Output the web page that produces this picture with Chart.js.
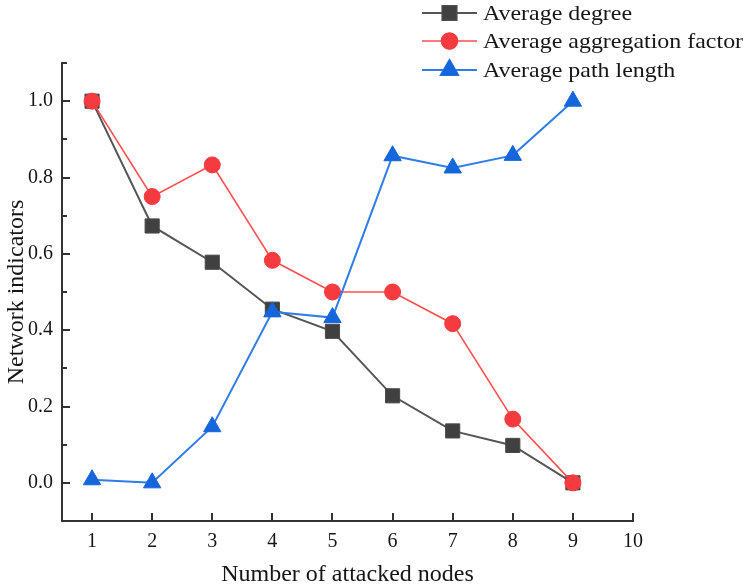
<!DOCTYPE html>
<html>
<head>
<meta charset="utf-8">
<script src="https://cdn.jsdelivr.net/npm/chart.js@4.4.1/dist/chart.umd.min.js"></script>
<style>
  html, body { margin: 0; padding: 0; background: #ffffff; }
  #wrap { width: 746px; height: 587px; position: relative; }
</style>
</head>
<body>
<div id="wrap"><canvas id="c" width="746" height="587"></canvas></div>
<script>
// ---- data ----
const xValues = [1, 2, 3, 4, 5, 6, 7, 8, 9];
const avgDegree = [1.0, 0.673, 0.578, 0.455, 0.397, 0.228, 0.136, 0.098, 0.0];
const avgAggregation = [1.0, 0.75, 0.833, 0.583, 0.5, 0.5, 0.417, 0.167, 0.0];
const avgPathLength = [0.008, 0.0, 0.147, 0.448, 0.433, 0.857, 0.825, 0.858, 1.0];
const seriesNames = ['Average degree', 'Average aggregation factor', 'Average path length'];
const xTickValues = [1, 2, 3, 4, 5, 6, 7, 8, 9, 10];
const yTickValues = [0.0, 0.2, 0.4, 0.6, 0.8, 1.0];
const yMinorTickValues = [0.1, 0.3, 0.5, 0.7, 0.9, 1.1];
const xTitle = 'Number of attacked nodes';
const yTitle = 'Network indicators';

const FONT = "'Liberation Serif', 'Times New Roman', serif";
const AXIS_COLOR = '#333333';
const TEXT_COLOR = '#151515';

function pts(ys) { return xValues.map((x, i) => ({ x: x, y: ys[i] })); }

const datasets = [
  { label: seriesNames[0], data: pts(avgDegree), borderColor: '#555555', borderWidth: 2,
    pointStyle: 'rect', pointRadius: 10, pointBackgroundColor: '#404040', pointBorderColor: '#4a4a4a',
    pointBorderWidth: 1, order: 3 },
  { label: seriesNames[1], data: pts(avgAggregation), borderColor: '#ff4d4d', borderWidth: 1.6,
    pointStyle: 'circle', pointRadius: 8, pointBackgroundColor: '#f53b3f', pointBorderColor: '#f53b3f',
    pointBorderWidth: 1, order: 2 },
  { label: seriesNames[2], data: pts(avgPathLength), borderColor: '#2f7de6', borderWidth: 2,
    pointStyle: 'triangle', pointRadius: 10, pointBackgroundColor: '#1565dc', pointBorderColor: '#1565dc',
    pointBorderWidth: 1, order: 1 }
];

const tickPlugin = {
  id: 'innerTicks',
  afterDraw(chart) {
    const ctx = chart.ctx;
    const xs = chart.scales.x, ys = chart.scales.y;
    const ca = chart.chartArea;
    ctx.save();
    ctx.strokeStyle = AXIS_COLOR;
    ctx.lineWidth = 2;
    ctx.beginPath();
    yTickValues.forEach(v => { const p = Math.round(ys.getPixelForValue(v)); ctx.moveTo(ca.left, p); ctx.lineTo(ca.left + 8, p); });
    yMinorTickValues.forEach(v => { const p = Math.round(ys.getPixelForValue(v)); ctx.moveTo(ca.left, p); ctx.lineTo(ca.left + 5, p); });
    xTickValues.forEach(v => { const p = Math.round(xs.getPixelForValue(v)); ctx.moveTo(p, ca.bottom); ctx.lineTo(p, ca.bottom - 8); });
    ctx.stroke();
    ctx.restore();
  }
};

const legendPlugin = {
  id: 'customLegend',
  afterDraw(chart) {
    const ctx = chart.ctx;
    const rows = [13, 41, 70];
    ctx.save();
    chart.data.datasets.forEach((ds, i) => {
      const y = rows[i];
      ctx.strokeStyle = ds.borderColor;
      ctx.lineWidth = ds.borderWidth;
      ctx.beginPath(); ctx.moveTo(422, y); ctx.lineTo(477, y); ctx.stroke();
      Chart.helpers.drawPoint(ctx, {
        pointStyle: ds.pointStyle, radius: ds.pointRadius, borderWidth: ds.pointBorderWidth, rotation: 0
      }, 449.5, y);
      ctx.fillStyle = ds.pointBackgroundColor;
      ctx.strokeStyle = ds.pointBorderColor;
      ctx.lineWidth = ds.pointBorderWidth;
      ctx.fill(); ctx.stroke();
      ctx.save();
      ctx.translate(483, y + 1);
      ctx.scale(1.14, 1);
      ctx.fillStyle = TEXT_COLOR;
      ctx.font = '21px ' + FONT;
      ctx.textBaseline = 'middle';
      ctx.textAlign = 'left';
      ctx.fillText(ds.label, 0, 0);
      ctx.restore();
    });
    ctx.restore();
  }
};

new Chart(document.getElementById('c'), {
  type: 'line',
  data: { datasets: datasets },
  plugins: [tickPlugin, legendPlugin],
  options: {
    responsive: false,
    animation: false,
    devicePixelRatio: 1,
    layout: { padding: { top: 63, right: 113, left: 0, bottom: 0 } },
    plugins: { legend: { display: false }, tooltip: { enabled: false } },
    elements: { line: { tension: 0 } },
    scales: {
      x: {
        type: 'linear', min: 0.5, max: 10,
        afterBuildTicks(scale) { scale.ticks = xTickValues.map(v => ({ value: v })); },
        afterFit(scale) { scale.height = 66; },
        grid: { display: false, drawTicks: false },
        border: { display: true, color: AXIS_COLOR, width: 2 },
        ticks: { color: TEXT_COLOR, padding: 9, maxRotation: 0, autoSkip: false,
          font: { family: FONT, size: 20 }, callback: v => String(v) },
        title: { display: true, text: xTitle, color: TEXT_COLOR,
          font: { family: FONT, size: 24, lineHeight: 1 }, padding: { top: 0, bottom: 0 } }
      },
      y: {
        type: 'linear', min: -0.1, max: 1.1,
        afterBuildTicks(scale) { scale.ticks = yTickValues.map(v => ({ value: v })); },
        afterFit(scale) { scale.width = 62; },
        grid: { display: false, drawTicks: false },
        border: { display: true, color: AXIS_COLOR, width: 2 },
        ticks: { color: TEXT_COLOR, padding: 9, autoSkip: false,
          font: { family: FONT, size: 20 }, callback: v => Number(v).toFixed(1) },
        title: { display: true, text: yTitle, color: TEXT_COLOR,
          font: { family: FONT, size: 24, lineHeight: 1 }, padding: { top: 5, bottom: 0 } }
      }
    }
  }
});
</script>
</body>
</html>
